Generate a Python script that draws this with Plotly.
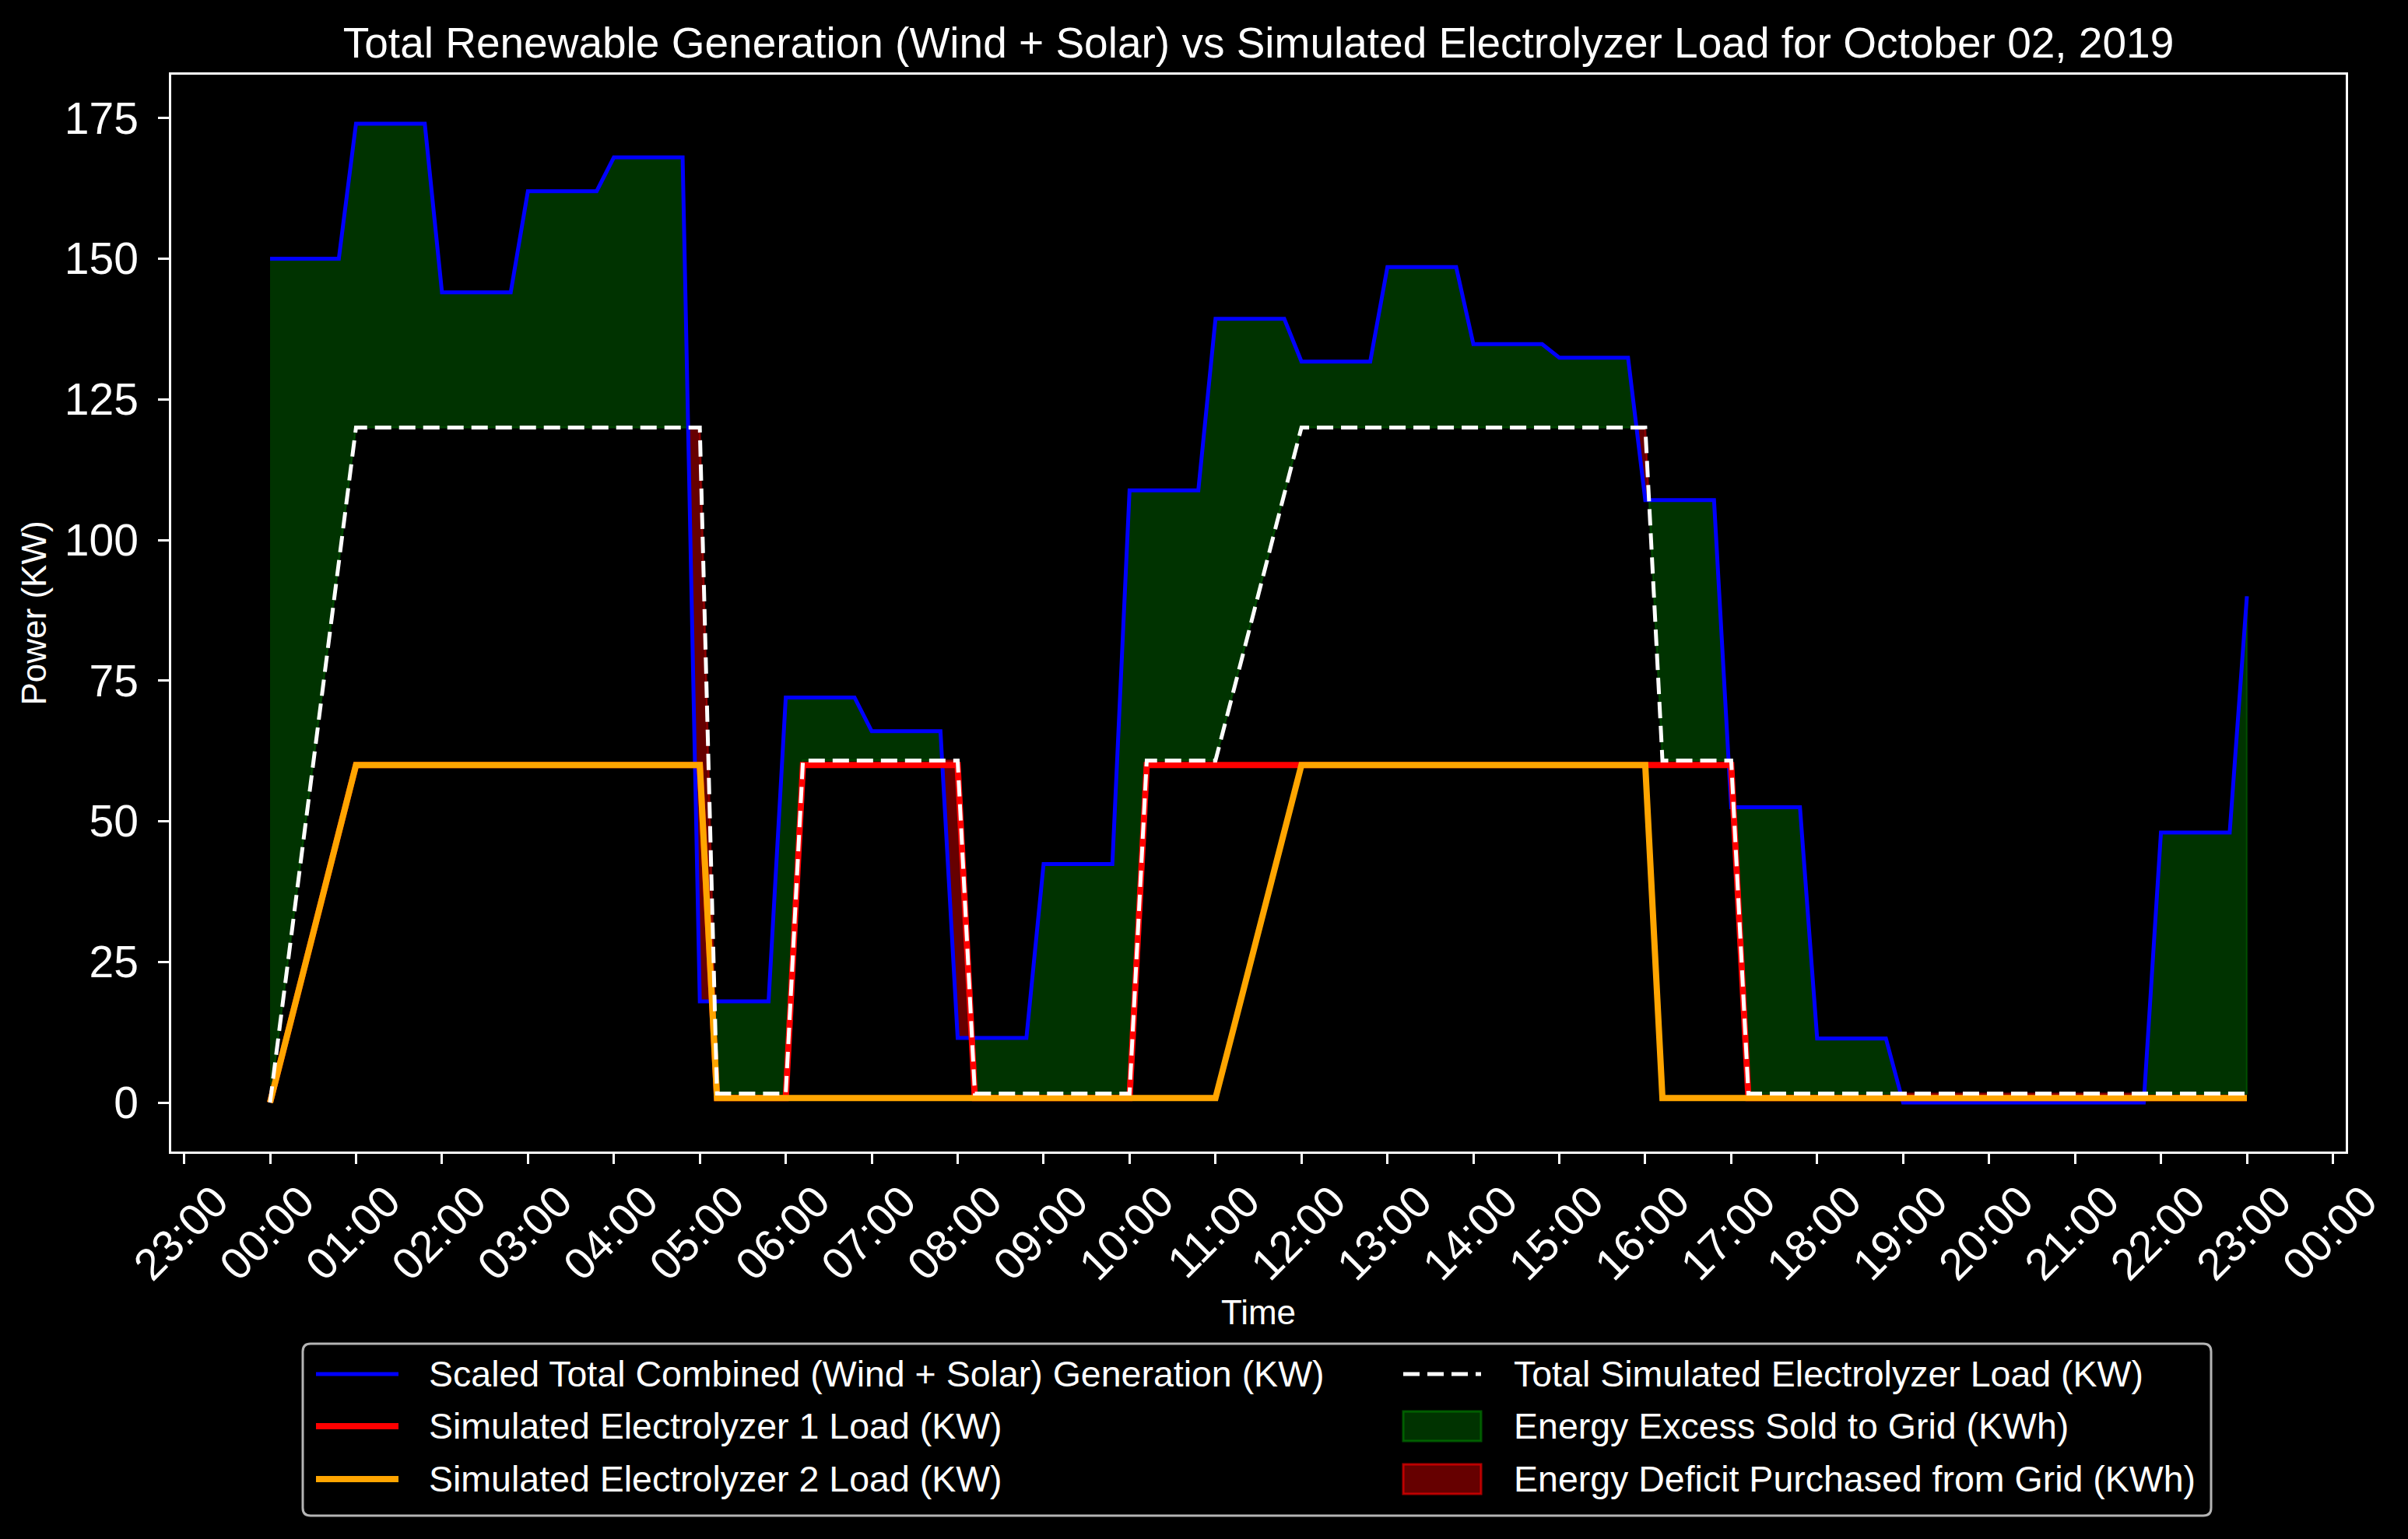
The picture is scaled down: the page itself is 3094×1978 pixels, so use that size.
import numpy as np
import pandas as pd
import plotly.graph_objects as go

# 12-minute samples over October 02, 2019 (00:00 .. 23:00)
sample_times = pd.date_range("2019-10-02 00:00", "2019-10-02 23:00", freq="12min")

# one row per hour, five 12-minute samples each, last row is 23:00
generation_kw = [
    150, 150, 150, 150, 150,          # 00
    174, 174, 174, 174, 174,          # 01
    144, 144, 144, 144, 144,          # 02
    162, 162, 162, 162, 162,          # 03
    168, 168, 168, 168, 168,          # 04
    18, 18, 18, 18, 18,               # 05
    72, 72, 72, 72, 72,               # 06
    66, 66, 66, 66, 66,               # 07
    11.5, 11.5, 11.5, 11.5, 11.5,     # 08
    42.4, 42.4, 42.4, 42.4, 42.4,     # 09
    108.8, 108.8, 108.8, 108.8, 108.8,  # 10
    139.3, 139.3, 139.3, 139.3, 139.3,  # 11
    131.7, 131.7, 131.7, 131.7, 131.7,  # 12
    148.5, 148.5, 148.5, 148.5, 148.5,  # 13
    134.8, 134.8, 134.8, 134.8, 134.8,  # 14
    132.4, 132.4, 132.4, 132.4, 132.4,  # 15
    107.1, 107.1, 107.1, 107.1, 107.1,  # 16
    52.5, 52.5, 52.5, 52.5, 52.5,     # 17
    11.4, 11.4, 11.4, 11.4, 11.4,     # 18
    0, 0, 0, 0, 0,                    # 19
    0, 0, 0, 0, 0,                    # 20
    0, 0, 0, 0, 0,                    # 21
    48, 48, 48, 48, 48,               # 22
    90,                               # 23
]

electrolyzer1_kw = [
    0, 12, 24, 36, 48,
    60, 60, 60, 60, 60,
    60, 60, 60, 60, 60,
    60, 60, 60, 60, 60,
    60, 60, 60, 60, 60,
    60, 0.8, 0.8, 0.8, 0.8,
    0.8, 60, 60, 60, 60,
    60, 60, 60, 60, 60,
    60, 0.8, 0.8, 0.8, 0.8,
    0.8, 0.8, 0.8, 0.8, 0.8,
    0.8, 60, 60, 60, 60,
    60, 60, 60, 60, 60,
    60, 60, 60, 60, 60,
    60, 60, 60, 60, 60,
    60, 60, 60, 60, 60,
    60, 60, 60, 60, 60,
    60, 60, 60, 60, 60,
    60, 0.8, 0.8, 0.8, 0.8,
    0.8, 0.8, 0.8, 0.8, 0.8,
    0.8, 0.8, 0.8, 0.8, 0.8,
    0.8, 0.8, 0.8, 0.8, 0.8,
    0.8, 0.8, 0.8, 0.8, 0.8,
    0.8, 0.8, 0.8, 0.8, 0.8,
    0.8,
]

electrolyzer2_kw = [
    0, 12, 24, 36, 48,
    60, 60, 60, 60, 60,
    60, 60, 60, 60, 60,
    60, 60, 60, 60, 60,
    60, 60, 60, 60, 60,
    60, 0.8, 0.8, 0.8, 0.8,
    0.8, 0.8, 0.8, 0.8, 0.8,
    0.8, 0.8, 0.8, 0.8, 0.8,
    0.8, 0.8, 0.8, 0.8, 0.8,
    0.8, 0.8, 0.8, 0.8, 0.8,
    0.8, 0.8, 0.8, 0.8, 0.8,
    0.8, 12.6, 24.5, 36.3, 48.2,
    60, 60, 60, 60, 60,
    60, 60, 60, 60, 60,
    60, 60, 60, 60, 60,
    60, 60, 60, 60, 60,
    60, 0.8, 0.8, 0.8, 0.8,
    0.8, 0.8, 0.8, 0.8, 0.8,
    0.8, 0.8, 0.8, 0.8, 0.8,
    0.8, 0.8, 0.8, 0.8, 0.8,
    0.8, 0.8, 0.8, 0.8, 0.8,
    0.8, 0.8, 0.8, 0.8, 0.8,
    0.8, 0.8, 0.8, 0.8, 0.8,
    0.8,
]

total_load_kw = [
    0, 24, 48, 72, 96,
    120, 120, 120, 120, 120,
    120, 120, 120, 120, 120,
    120, 120, 120, 120, 120,
    120, 120, 120, 120, 120,
    120, 1.6, 1.6, 1.6, 1.6,
    1.6, 60.8, 60.8, 60.8, 60.8,
    60.8, 60.8, 60.8, 60.8, 60.8,
    60.8, 1.6, 1.6, 1.6, 1.6,
    1.6, 1.6, 1.6, 1.6, 1.6,
    1.6, 60.8, 60.8, 60.8, 60.8,
    60.8, 72.6, 84.5, 96.3, 108.2,
    120, 120, 120, 120, 120,
    120, 120, 120, 120, 120,
    120, 120, 120, 120, 120,
    120, 120, 120, 120, 120,
    120, 60.8, 60.8, 60.8, 60.8,
    60.8, 1.6, 1.6, 1.6, 1.6,
    1.6, 1.6, 1.6, 1.6, 1.6,
    1.6, 1.6, 1.6, 1.6, 1.6,
    1.6, 1.6, 1.6, 1.6, 1.6,
    1.6, 1.6, 1.6, 1.6, 1.6,
    1.6, 1.6, 1.6, 1.6, 1.6,
    1.6,
]

names = [
    "Scaled Total Combined (Wind + Solar) Generation (KW)",
    "Simulated Electrolyzer 1 Load (KW)",
    "Simulated Electrolyzer 2 Load (KW)",
    "Total Simulated Electrolyzer Load (KW)",
    "Energy Excess Sold to Grid (KWh)",
    "Energy Deficit Purchased from Grid (KWh)",
]

title = "Total Renewable Generation (Wind + Solar) vs Simulated Electrolyzer Load for October 02, 2019"

FONT = "Liberation Sans"
W, H = 3094, 1978
M_L, M_R, M_T, M_B = 220, 80, 96, 498
PW, PH = W - M_L - M_R, H - M_T - M_B


def px(x):
    return (x - M_L) / PW


def py(y):
    return (H - M_B - y) / PH


# --- fill_between(..., where=..., interpolate=True) equivalent ---
t0 = sample_times[0]
hours = np.asarray((sample_times - t0) / pd.Timedelta(hours=1), dtype=float)
gen = np.array(generation_kw, dtype=float)
load = np.array(total_load_kw, dtype=float)


def with_crossings(t, a, b):
    ts, aa, bb = [t[0]], [a[0]], [b[0]]
    for i in range(len(t) - 1):
        d0, d1 = a[i] - b[i], a[i + 1] - b[i + 1]
        if d0 * d1 < 0:
            s = d0 / (d0 - d1)
            yc = a[i] + s * (a[i + 1] - a[i])
            ts.append(t[i] + s * (t[i + 1] - t[i]))
            aa.append(yc)
            bb.append(yc)
        ts.append(t[i + 1])
        aa.append(a[i + 1])
        bb.append(b[i + 1])
    return np.array(ts), np.array(aa), np.array(bb)


def region_polygons(t, a, b, sign):
    d = sign * (a - b)
    ok = d >= -1e-9
    xs, ys = [], []
    i, n = 0, len(t)
    while i < n:
        if not ok[i]:
            i += 1
            continue
        j = i
        while j + 1 < n and ok[j + 1]:
            j += 1
        if (d[i:j + 1] > 1e-9).any():
            seg = t[i:j + 1]
            xs += [t0 + pd.Timedelta(hours=h) for h in list(seg) + list(seg[::-1])] + [None]
            ys += list(a[i:j + 1]) + list(b[i:j + 1][::-1]) + [None]
        i = j + 1
    return xs, ys


tf, gf, lf = with_crossings(hours, gen, load)
ex_x, ex_y = region_polygons(tf, gf, lf, 1)
de_x, de_y = region_polygons(tf, gf, lf, -1)

fig = go.Figure()

fig.add_trace(go.Scatter(
    x=ex_x, y=ex_y, mode="lines", fill="toself",
    fillcolor="rgba(0,128,0,0.4)", line=dict(color="rgba(0,128,0,0.4)", width=2.5),
    name=names[4], showlegend=False, hoverinfo="skip"))
fig.add_trace(go.Scatter(
    x=de_x, y=de_y, mode="lines", fill="toself",
    fillcolor="rgba(255,0,0,0.4)", line=dict(color="rgba(255,0,0,0.4)", width=2.5),
    name=names[5], showlegend=False, hoverinfo="skip"))

fig.add_trace(go.Scatter(x=sample_times, y=generation_kw, mode="lines",
                         line=dict(color="blue", width=5), name=names[0], showlegend=False))
fig.add_trace(go.Scatter(x=sample_times, y=electrolyzer1_kw, mode="lines",
                         line=dict(color="red", width=8), name=names[1], showlegend=False))
fig.add_trace(go.Scatter(x=sample_times, y=electrolyzer2_kw, mode="lines",
                         line=dict(color="orange", width=8), name=names[2], showlegend=False))
fig.add_trace(go.Scatter(x=sample_times, y=total_load_kw, mode="lines",
                         line=dict(color="white", width=5, dash="21px,10px"),
                         name=names[3], showlegend=False))

# --- legend drawn by hand (two columns, matplotlib style) ---
shapes = []
annotations = []
box_l, box_r, box_t, box_b, rad = 389, 2841, 1727, 1948, 10
rx, ry = rad / PW, rad / PH
path = (f"M {px(box_l) + rx},{py(box_t)} L {px(box_r) - rx},{py(box_t)} "
        f"Q {px(box_r)},{py(box_t)} {px(box_r)},{py(box_t) - ry} "
        f"L {px(box_r)},{py(box_b) + ry} Q {px(box_r)},{py(box_b)} {px(box_r) - rx},{py(box_b)} "
        f"L {px(box_l) + rx},{py(box_b)} Q {px(box_l)},{py(box_b)} {px(box_l)},{py(box_b) + ry} "
        f"L {px(box_l)},{py(box_t) - ry} Q {px(box_l)},{py(box_t)} {px(box_l) + rx},{py(box_t)} Z")
shapes.append(dict(type="path", xref="paper", yref="paper", path=path,
                   line=dict(color="#b4b4b4", width=3), fillcolor="black", layer="above"))

rows = [1766, 1833, 1901]
items = [
    (0, 0, "line", "blue", 5, "solid"),
    (0, 1, "line", "red", 8, "solid"),
    (0, 2, "line", "orange", 8, "solid"),
    (1, 0, "line", "white", 5, "21px,10px"),
    (1, 1, "patch", "0,128,0", 0, None),
    (1, 2, "patch", "255,0,0", 0, None),
]
cols = [(406, 512, 549), (1803, 1903, 1943)]
for k, (c, r, kind, color, lw, dash) in enumerate(items):
    x0, x1, xt = cols[c]
    yc = rows[r]
    if kind == "line":
        shapes.append(dict(type="line", xref="paper", yref="paper",
                           x0=px(x0), x1=px(x1), y0=py(yc), y1=py(yc),
                           line=dict(color=color, width=lw, dash=dash), layer="above"))
    else:
        shapes.append(dict(type="rect", xref="paper", yref="paper",
                           x0=px(x0), x1=px(x1), y0=py(yc - 19), y1=py(yc + 19),
                           fillcolor=f"rgba({color},0.4)",
                           line=dict(color=f"rgba({color},0.64)", width=3), layer="above"))
    annotations.append(dict(xref="paper", yref="paper", x=px(xt), y=py(yc),
                            xanchor="left", yanchor="middle", showarrow=False,
                            text=names[k], font=dict(family=FONT, size=46.5, color="white")))

axis_common = dict(showgrid=False, zeroline=False, showline=True, linecolor="white",
                   linewidth=2.5, mirror=True, ticks="outside", tickcolor="white",
                   tickwidth=2.5, tickfont=dict(family=FONT, size=57, color="white"))

fig.update_layout(
    width=W, height=H, autosize=False,
    paper_bgcolor="black", plot_bgcolor="black",
    margin=dict(l=M_L, r=M_R, t=M_T, b=M_B),
    font=dict(family=FONT, color="white"),
    title=dict(text=title, x=0.5, xref="paper", xanchor="center",
               y=1, yref="paper", yanchor="bottom", pad=dict(b=22),
               font=dict(family=FONT, size=55, color="white")),
    xaxis=dict(axis_common, type="date",
               range=["2019-10-01 22:51", "2019-10-03 00:09"],
               tick0="2019-10-01 23:00", dtick=3600000, tickformat="%H:%M",
               tickangle=-45, ticklen=13, ticklabelshift=40, ticklabelstandoff=-8,
               title=dict(text="Time", standoff=16,
                          font=dict(family=FONT, size=44, color="white"))),
    yaxis=dict(axis_common, range=[-8.7, 182.7], tick0=0, dtick=25,
               ticklen=14, ticklabelstandoff=14,
               title=dict(text="Power (KW)", standoff=10,
                          font=dict(family=FONT, size=44, color="white"))),
    shapes=shapes,
    annotations=annotations,
)

fig.write_html("out.html", config={"displayModeBar": False},
               post_script="document.body.style.margin='0';")
